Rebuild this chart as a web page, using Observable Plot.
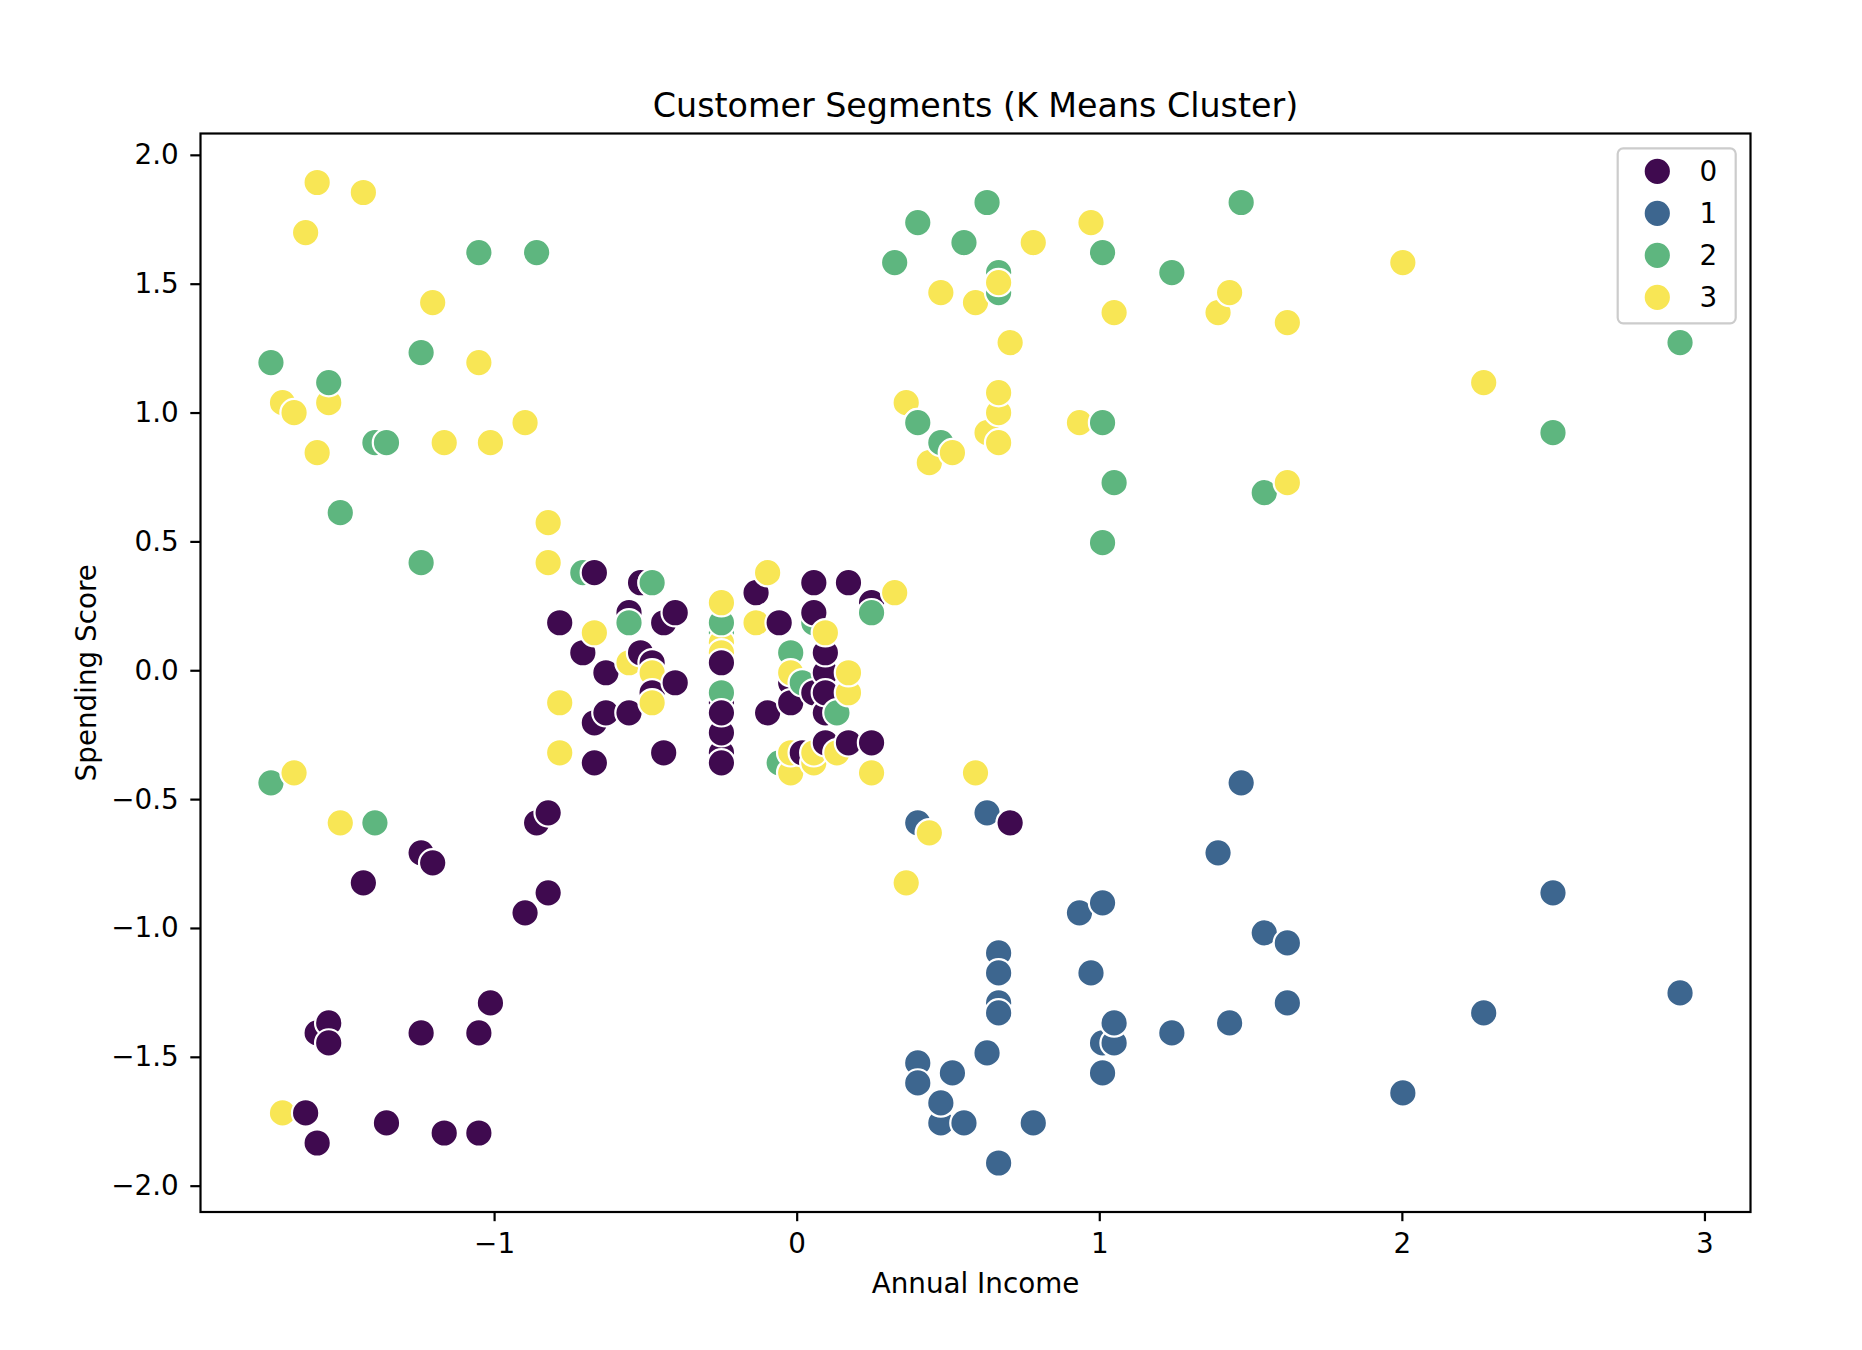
<!DOCTYPE html>
<html>
<head>
<meta charset="utf-8">
<script src="https://cdn.jsdelivr.net/npm/d3@7"></script>
<script src="https://cdn.jsdelivr.net/npm/@observablehq/plot@0.6"></script>
<style>
  html, body { margin: 0; padding: 0; background: #ffffff; }
  #chart svg { display: block; }
</style>
</head>
<body>
<div id="chart"></div>
<script>
// ---- Data (standardized values) ----
const annualIncome = [
  -1.7391, -1.7391, -1.7009, -1.7009, -1.6627, -1.6627, -1.6245, -1.6245, -1.5864, -1.5864,
  -1.5864, -1.5864, -1.5482, -1.5482, -1.5482, -1.5482, -1.5100, -1.5100, -1.4337, -1.4337,
  -1.3955, -1.3955, -1.3573, -1.3573, -1.2428, -1.2428, -1.2428, -1.2428, -1.2046, -1.2046,
  -1.1665, -1.1665, -1.0520, -1.0520, -1.0520, -1.0520, -1.0138, -1.0138, -0.8993, -0.8993,
  -0.8611, -0.8611, -0.8230, -0.8230, -0.8230, -0.8230, -0.7848, -0.7848, -0.7848, -0.7848,
  -0.7084, -0.7084, -0.6703, -0.6703, -0.6703, -0.6703, -0.6321, -0.6321, -0.5558, -0.5558,
  -0.5558, -0.5558, -0.5176, -0.5176, -0.4794, -0.4794, -0.4794, -0.4794, -0.4794, -0.4794,
  -0.4412, -0.4412, -0.4031, -0.4031, -0.2504, -0.2504, -0.2504, -0.2504, -0.2504, -0.2504,
  -0.2504, -0.2504, -0.2504, -0.2504, -0.2504, -0.2504, -0.1359, -0.1359, -0.0977, -0.0977,
  -0.0595, -0.0595, -0.0214, -0.0214, -0.0214, -0.0214, -0.0214, -0.0214, 0.0168, 0.0168,
  0.0550, 0.0550, 0.0550, 0.0550, 0.0550, 0.0550, 0.0931, 0.0931, 0.0931, 0.0931,
  0.0931, 0.0931, 0.1313, 0.1313, 0.1695, 0.1695, 0.1695, 0.1695, 0.2458, 0.2458,
  0.2458, 0.2458, 0.3222, 0.3222, 0.3603, 0.3603, 0.3985, 0.3985, 0.3985, 0.3985,
  0.3985, 0.3985, 0.4367, 0.4367, 0.4748, 0.4748, 0.4748, 0.4748, 0.5130, 0.5130,
  0.5512, 0.5512, 0.5893, 0.5893, 0.6275, 0.6275, 0.6275, 0.6275, 0.6657, 0.6657,
  0.6657, 0.6657, 0.6657, 0.6657, 0.6657, 0.6657, 0.6657, 0.6657, 0.6657, 0.6657,
  0.7038, 0.7038, 0.7802, 0.7802, 0.9329, 0.9329, 0.9710, 0.9710, 1.0092, 1.0092,
  1.0092, 1.0092, 1.0092, 1.0092, 1.0474, 1.0474, 1.0474, 1.0474, 1.2382, 1.2382,
  1.3909, 1.3909, 1.4291, 1.4291, 1.4673, 1.4673, 1.5436, 1.5436, 1.6199, 1.6199,
  1.6199, 1.6199, 2.0016, 2.0016, 2.2688, 2.2688, 2.4978, 2.4978, 2.9177, 2.9177
];

const spendingScore = [
  -0.4348, 1.1957, -1.7159, 1.0404, -0.3960, 1.0016, -1.7159, 1.7004, -1.8324, 0.8463,
  -1.4054, 1.8945, -1.3665, 1.0404, -1.4442, 1.1181, -0.5901, 0.6134, -0.8230, 1.8557,
  -0.5901, 0.8851, -1.7547, 0.8851, -1.4054, 1.2345, -0.7066, 0.4193, -0.7454, 1.4286,
  -1.7936, 0.8851, -1.7936, 1.6228, -1.4054, 1.1957, -1.2889, 0.8851, -0.9395, 0.9628,
  -0.5901, 1.6228, -0.5513, 0.4193, -0.8618, 0.5746, 0.1863, -0.1242, -0.3183, -0.3183,
  0.0699, 0.3805, 0.1475, 0.3805, -0.2019, -0.3572, -0.0078, -0.1631, 0.0311, -0.1631,
  0.2252, 0.1863, 0.0699, 0.3416, 0.0311, 0.3416, -0.0078, -0.0854, 0.3416, -0.1242,
  0.1863, -0.3183, -0.0466, 0.2252, -0.1242, 0.1475, 0.1087, -0.0854, 0.0699, -0.3183,
  0.0311, 0.1863, -0.3572, -0.2407, 0.2640, -0.1631, 0.3028, 0.1863, 0.3805, -0.1631,
  0.1863, -0.3572, -0.0466, -0.3960, -0.3183, 0.0699, -0.1242, -0.0078, -0.3183, -0.0466,
  -0.3572, -0.0854, 0.3416, 0.1863, 0.2252, -0.3183, -0.0078, -0.1631, -0.2795, -0.0854,
  0.0699, 0.1475, -0.3183, -0.1631, -0.0854, -0.0078, -0.2795, 0.3416, -0.2795, 0.2640,
  0.2252, -0.3960, 0.3028, 1.5839, -0.8230, 1.0404, -0.5901, 1.7392, -1.5218, 0.9628,
  -1.5995, 0.9628, -0.6289, 0.8075, -1.7547, 1.4675, -1.6771, 0.8851, -1.5606, 0.8463,
  -1.7547, 1.6616, -0.3960, 1.4286, -1.4830, 1.8169, -0.5513, 0.9240, -1.0948, 1.5451,
  -1.2889, 1.4675, -1.1724, 1.0016, -1.3277, 1.5063, -1.9100, 1.0792, -1.9100, 0.8851,
  -0.5901, 1.2734, -1.7547, 1.6616, -0.9395, 0.9628, -1.1724, 1.7392, -0.9007, 0.4969,
  -1.4442, 0.9628, -1.5606, 1.6228, -1.4442, 1.3898, -1.3665, 0.7299, -1.4054, 1.5451,
  -0.7066, 1.3898, -1.3665, 1.4675, -0.4348, 1.8169, -1.0171, 0.6910, -1.2889, 1.3510,
  -1.0560, 0.7299, -1.6383, 1.5839, -1.3277, 1.1181, -0.8618, 0.9240, -1.2501, 1.2734
];

const cluster = [
  2, 2, 3, 3, 3, 3, 0, 3, 0, 3,
  0, 3, 0, 3, 0, 2, 3, 2, 0, 3,
  2, 2, 0, 2, 0, 2, 0, 2, 0, 3,
  0, 3, 0, 2, 0, 3, 0, 3, 0, 3,
  0, 2, 0, 3, 0, 3, 0, 3, 3, 3,
  0, 2, 3, 0, 0, 0, 0, 0, 3, 0,
  0, 2, 0, 0, 0, 2, 3, 0, 2, 3,
  0, 0, 0, 0, 0, 2, 3, 2, 3, 0,
  0, 2, 0, 0, 3, 0, 0, 3, 3, 0,
  0, 2, 0, 3, 3, 2, 0, 3, 0, 2,
  3, 0, 0, 2, 0, 3, 0, 0, 0, 0,
  0, 3, 3, 2, 3, 3, 0, 0, 0, 0,
  2, 3, 3, 2, 3, 3, 1, 2, 1, 2,
  1, 2, 3, 3, 1, 3, 1, 2, 1, 3,
  1, 2, 3, 3, 1, 2, 1, 3, 1, 2,
  1, 2, 1, 3, 1, 3, 1, 3, 1, 3,
  0, 3, 1, 3, 1, 3, 1, 3, 1, 2,
  1, 2, 1, 2, 1, 3, 1, 2, 1, 2,
  1, 3, 1, 3, 1, 2, 1, 2, 1, 3,
  1, 3, 1, 3, 1, 3, 1, 2, 1, 2
];

const clusterLabels = [0, 1, 2, 3];
const clusterColors = ["#3f0a4f", "#3d668f", "#5eb67f", "#f8e655"];
const xTicks = [-1, 0, 1, 2, 3];
const yTicks = [-2, -1.5, -1, -0.5, 0, 0.5, 1, 1.5, 2];
const chartTitle = "Customer Segments (K Means Cluster)";
const xLabel = "Annual Income";
const yLabel = "Spending Score";

// ---- Build table ----
const points = annualIncome.map((x, i) => ({ x, y: spendingScore[i], cluster: cluster[i] }));

// matplotlib-style 5% autoscale margins
const padDomain = (vals) => {
  const [lo, hi] = d3.extent(vals);
  const m = (hi - lo) * 0.05;
  return [lo - m, hi + m];
};

const FONT = "DejaVu Sans";
const TICK_FS = 27.8;
const LINE_W = 2.2;

// Legend drawn inside the frame (upper right), using the plot's color scale
const legendMark = (index, scales, values, dims) => {
  const colorOf = scales && scales.color ? scales.color : (c) => clusterColors[c];
  const g = d3.create("svg:g").attr("font-family", FONT);
  const right = dims.width - dims.marginRight;
  const top = dims.marginTop;
  g.append("rect")
    .attr("x", right - 132.3).attr("y", top + 15.3)
    .attr("width", 118).attr("height", 175)
    .attr("rx", 5.5).attr("ry", 5.5)
    .attr("fill", "white").attr("fill-opacity", 0.8)
    .attr("stroke", "#cccccc").attr("stroke-width", 2.2);
  clusterLabels.forEach((c, i) => {
    const cy = top + 38.3 + 42 * i;
    g.append("circle")
      .attr("cx", right - 92.7).attr("cy", cy).attr("r", 13.7)
      .attr("fill", colorOf(c)).attr("stroke", "white").attr("stroke-width", 2.2);
    g.append("text")
      .attr("x", right - 41.7).attr("y", cy + 10)
      .attr("font-size", TICK_FS).attr("fill", "black")
      .text(String(c));
  });
  return g.node();
};

const chart = Plot.plot({
  width: 1862,
  height: 1350,
  marginLeft: 200,
  marginRight: 112,
  marginTop: 133,
  marginBottom: 138.5,
  style: { fontFamily: FONT, color: "black", background: "white" },
  x: { domain: padDomain(annualIncome), label: null },
  y: { domain: padDomain(spendingScore), label: null },
  color: { type: "ordinal", domain: clusterLabels, range: clusterColors },
  marks: [
    Plot.dot(points, {
      x: "x", y: "y", fill: "cluster",
      r: 13.7, stroke: "white", strokeWidth: 2.2
    }),
    Plot.frame({ stroke: "black", strokeWidth: LINE_W }),
    Plot.axisX({
      ticks: xTicks, tickSize: 9.7, tickPadding: 12, fontSize: TICK_FS,
      strokeWidth: LINE_W, tickFormat: d3.format("d"), label: null
    }),
    Plot.axisY({
      ticks: yTicks, tickSize: 9.7, tickPadding: 12, fontSize: TICK_FS,
      strokeWidth: LINE_W, tickFormat: d3.format(".1f"), label: null
    }),
    Plot.text([chartTitle], {
      text: (d) => d, frameAnchor: "top", dy: -27.2,
      fontSize: 33.3, textAnchor: "middle", lineAnchor: "middle", fill: "black"
    }),
    Plot.text([xLabel], {
      text: (d) => d, frameAnchor: "bottom", dy: 72.3,
      fontSize: TICK_FS, textAnchor: "middle", lineAnchor: "middle", fill: "black"
    }),
    Plot.text([yLabel], {
      text: (d) => d, frameAnchor: "left", dx: -113.9, rotate: -90,
      fontSize: TICK_FS, textAnchor: "middle", lineAnchor: "middle", fill: "black"
    }),
    legendMark
  ]
});

document.getElementById("chart").appendChild(chart);
</script>
</body>
</html>
